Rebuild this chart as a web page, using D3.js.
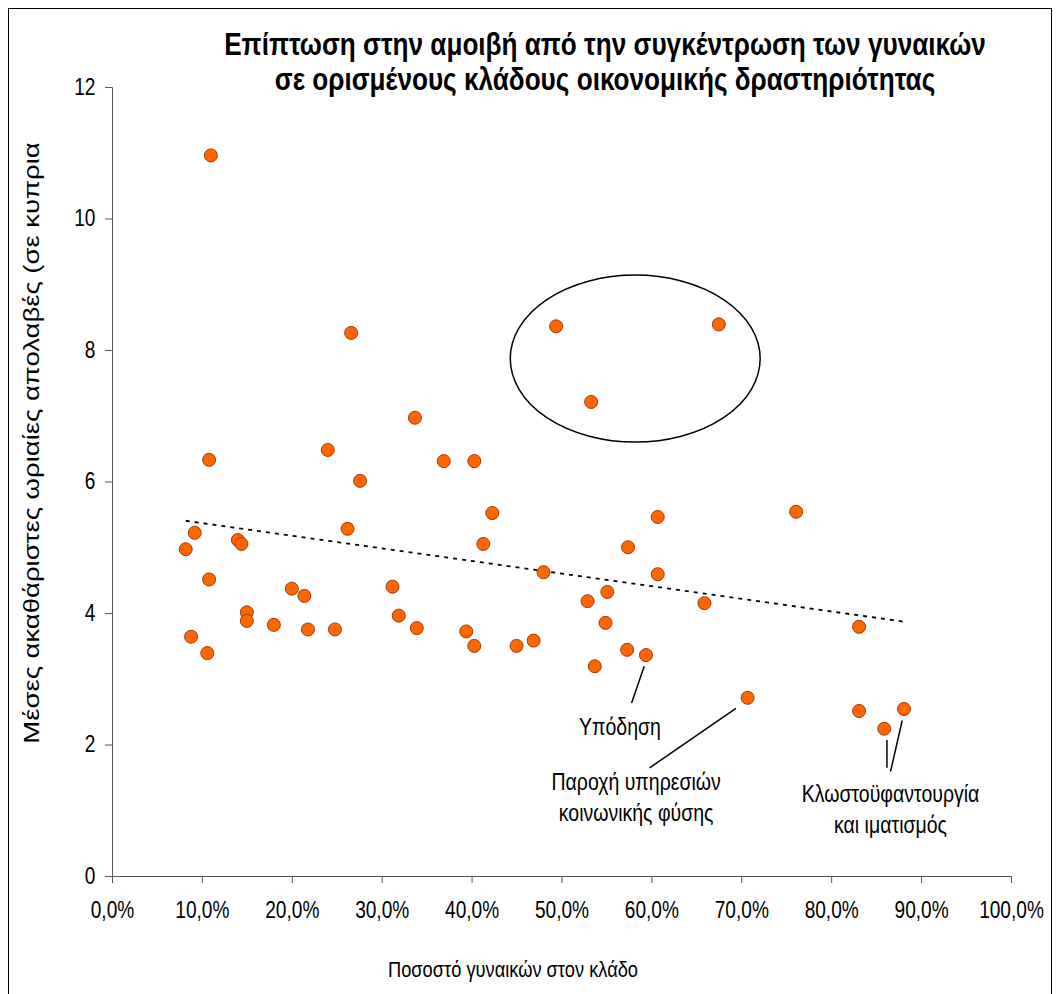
<!DOCTYPE html>
<html>
<head>
<meta charset="utf-8">
<script src="https://cdn.jsdelivr.net/npm/d3@7"></script>
<style>
  body { margin: 0; background: #fff; }
  text { font-family: "Liberation Sans", Arial, sans-serif; fill: #000; }
</style>
</head>
<body>
<svg id="chart" width="1060" height="994"></svg>
<script>
// data: % women in sector vs mean gross hourly earnings
var share = [11.0, 26.6, 33.7, 10.8, 24.0, 36.9, 27.6, 26.2, 9.2, 14.0, 14.4, 8.2, 10.8,
  20.0, 21.4, 31.2, 15.0, 15.0, 18.0, 21.8, 24.8, 31.9, 33.9, 8.8, 10.6,
  49.4, 67.5, 53.3, 40.3, 42.3, 60.7, 76.1, 41.3, 57.4, 48.0, 60.7, 55.1, 52.9, 65.9,
  54.9, 39.4, 40.3, 45.0, 46.9, 57.3, 59.4, 53.7, 70.7, 83.1, 83.1, 85.9, 88.1];
var earnings = [10.96, 8.26, 6.97, 6.33, 6.48, 6.31, 6.01, 5.28, 5.22, 5.11, 5.05, 4.97, 4.51,
  4.37, 4.26, 4.40, 4.01, 3.88, 3.82, 3.75, 3.75, 3.96, 3.77, 3.64, 3.39,
  8.36, 8.39, 7.21, 6.31, 5.52, 5.46, 5.54, 5.05, 5.00, 4.62, 4.59, 4.32, 4.18, 4.15,
  3.85, 3.72, 3.50, 3.50, 3.58, 3.44, 3.36, 3.19, 2.71, 3.79, 2.51, 2.24, 2.54];

var xTicks = [0, 10, 20, 30, 40, 50, 60, 70, 80, 90, 100];
var yTicks = [0, 2, 4, 6, 8, 10, 12];

var titleLines = ["Επίπτωση στην αμοιβή από την συγκέντρωση των γυναικών",
  "σε ορισμένους κλάδους οικονομικής δραστηριότητας"];
var xTitle = "Ποσοστό γυναικών στον κλάδο";
var yTitle = "Μέσες ακαθάριστες ωριαίες απολαβές (σε κυπρια";

// highlighted group (ellipse) in data units
var ellipseCenter = [58.2, 7.87];
var ellipseRadius = [13.9, 1.27];

// callouts: text lines, anchor in data units, leader lines [x1,y1,x2,y2]
var callouts = [
  { lines: ["Υπόδηση"], at: [56.5, 2.14], leaders: [[59.2, 3.19, 57.8, 2.63]] },
  { lines: ["Παροχή υπηρεσιών", "κοινωνικής φύσης"], at: [58.3, 1.31],
    leaders: [[69.4, 2.55, 59.8, 1.645]] },
  { lines: ["Κλωστοϋφαντουργία", "και ιματισμός"], at: [86.6, 1.13],
    leaders: [[86.2, 2.07, 86.2, 1.645], [87.9, 2.365, 86.6, 1.59]] }
];

var points = share.map(function(s, i) { return { x: s, y: earnings[i] }; });

// the reference text is horizontally condensed
var squeeze = 0.83;

var svg = d3.select("#chart");

// outer frame
svg.append("rect")
  .attr("x", 8.5).attr("y", 8.5)
  .attr("width", 1043).attr("height", 1000)
  .attr("fill", "none").attr("stroke", "#000").attr("stroke-width", 1);

var x = d3.scaleLinear().domain([0, 100]).range([112, 1011]);
var y = d3.scaleLinear().domain([0, 12]).range([876, 87]);

// axes
var xAxis = d3.axisBottom(x).tickValues(xTicks).tickSize(7).tickPadding(19)
  .tickFormat(function(d) { return d3.format(".1f")(d).replace(".", ",") + "%"; });
var yAxis = d3.axisLeft(y).tickValues(yTicks).tickSize(7).tickPadding(13)
  .tickFormat(d3.format("d"));

var gx = svg.append("g").attr("transform", "translate(0," + y(0) + ")").call(xAxis);
var gy = svg.append("g").attr("transform", "translate(" + x(0) + ",0)").call(yAxis);

[gx, gy].forEach(function(g) {
  g.select(".domain").attr("stroke", "#555");
  g.selectAll(".tick line").attr("stroke", "#555");
  g.selectAll(".tick text")
    .style("font-family", '"Liberation Sans", Arial, sans-serif')
    .style("font-size", "23px").attr("fill", "#000")
    .attr("transform", "scale(" + squeeze + ",1)");
});

// trend line (least squares over the data)
var mx = d3.mean(share), my = d3.mean(earnings);
var sxy = d3.sum(points, function(d) { return (d.x - mx) * (d.y - my); });
var sxx = d3.sum(points, function(d) { return (d.x - mx) * (d.x - mx); });
var slope = sxy / sxx, icept = my - slope * mx;
var ext = d3.extent(share);
svg.append("path")
  .datum(ext.map(function(v) { return { x: v, y: icept + slope * v }; }))
  .attr("d", d3.line().x(function(d) { return x(d.x); }).y(function(d) { return y(d.y); }))
  .attr("fill", "none").attr("stroke", "#000").attr("stroke-width", 1.8)
  .attr("stroke-dasharray", "4,5");

// ellipse
svg.append("ellipse")
  .attr("cx", x(ellipseCenter[0])).attr("cy", y(ellipseCenter[1]))
  .attr("rx", x(ellipseRadius[0]) - x(0)).attr("ry", y(0) - y(ellipseRadius[1]))
  .attr("fill", "none").attr("stroke", "#000").attr("stroke-width", 1.5);

// points
svg.append("g").selectAll("circle")
  .data(points)
  .enter().append("circle")
  .attr("cx", function(d) { return x(d.x); })
  .attr("cy", function(d) { return y(d.y); })
  .attr("r", 6.5)
  .attr("fill", "#ff6600")
  .attr("stroke", "#a33a00")
  .attr("stroke-width", 1);

function label(px, py, txt, size, bold) {
  return svg.append("text")
    .attr("transform", "translate(" + px + "," + py + ") scale(" + squeeze + ",1)")
    .attr("text-anchor", "middle")
    .style("font-size", size + "px")
    .style("font-weight", bold ? "bold" : "normal")
    .text(txt);
}

// callouts
callouts.forEach(function(c) {
  c.leaders.forEach(function(l) {
    svg.append("line")
      .attr("x1", x(l[0])).attr("y1", y(l[1]))
      .attr("x2", x(l[2])).attr("y2", y(l[3]))
      .attr("stroke", "#000").attr("stroke-width", 1.5);
  });
  c.lines.forEach(function(t, i) {
    label(x(c.at[0]), y(c.at[1]) + i * 31.5, t, 23.5, false);
  });
});

// titles
titleLines.forEach(function(t, i) {
  label(605, 55 + i * 35, t, 31.5, true);
});

label(513, 977, xTitle, 22, false);

// rotated title is stretched along its length in the reference
svg.append("text")
  .attr("transform", "translate(39,443) rotate(-90) scale(1.25,1)")
  .attr("text-anchor", "middle")
  .style("font-size", "22px")
  .text(yTitle);
</script>
</body>
</html>
